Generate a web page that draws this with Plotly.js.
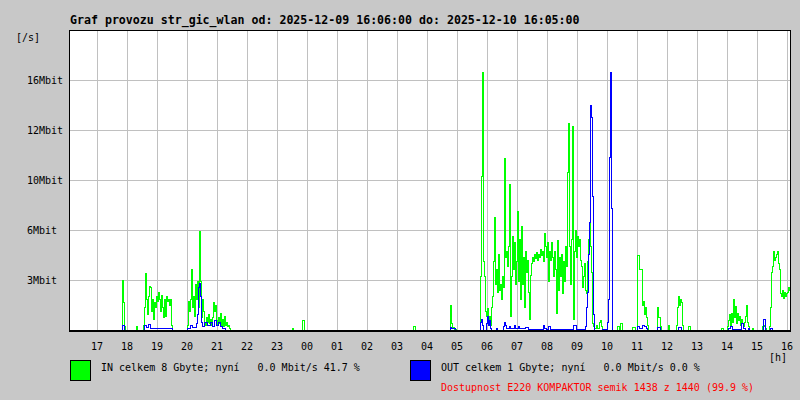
<!DOCTYPE html>
<html>
<head>
<meta charset="utf-8">
<script src="https://cdn.plot.ly/plotly-3.0.1.min.js"></script>
<style>
html,body{margin:0;padding:0;background:#c8c8c8;}
#chart{width:800px;height:400px;}
#chart .scatterlayer path, #chart .gridlayer path, #chart .shapelayer path, #chart path.xlines-above, #chart path.ylines-above{shape-rendering:crispEdges;}
</style>
</head>
<body>
<div id="chart"></div>
<script>
// time in minutes since 2025-12-09 00:00, values in Mbit/s
const inMinutes = [966,1070,1072,1074,1076,1098,1100,1112,1114,1116,1118,1120,1122,1124,1126,1128,1130,1132,1134,1136,1138,1140,1142,1144,1146,1148,1150,1152,1154,1156,1158,1160,1162,1164,1166,1168,1170,
1200,1202,1204,1206,1208,1210,1212,1214,1216,1218,1220,1222,1224,1226,1228,1230,1232,1234,1236,1238,1240,1242,1244,1246,1248,1250,1252,1254,1256,1258,1260,1262,1264,1266,1268,1270,1272,1274,1276,1278,1280,1282,1284,1286,
1410,1412,1430,1434,1652,1656,1726,1728,1730,1734,1738,
1786,1788,1790,1792,1794,1796,1798,1800,1802,1804,1806,1808,1810,1812,1814,1816,1818,1820,1822,1824,1826,1828,1830,1832,1834,1836,1838,1840,1842,1844,1846,1848,1850,1852,1854,1856,1858,1860,1862,1864,1866,1868,1870,1872,1874,1876,1878,1880,1882,1884,1886,1888,1890,1892,1894,1896,1898,1900,1902,1904,1906,1908,1910,1912,1914,1916,1918,1920,1922,1924,1926,1928,1930,1932,1934,1936,1938,1940,1942,1944,1946,1948,1950,1952,1954,1956,1958,1960,1962,1964,1966,1968,1970,1972,1974,1976,1978,1980,1982,1984,1986,1988,1990,1992,1994,1996,1998,2000,2002,2004,2006,2008,2010,2012,2014,2018,2020,2024,2026,2028,2030,
2060,2064,2066,2070,2090,2096,2100,2104,2110,2112,2114,2116,2118,2120,2122,2140,2142,2146,2148,2162,2164,2178,2180,2182,2184,2186,2188,2190,2192,2202,2206,
2268,2272,2280,2282,2284,2286,2288,2290,2292,2294,2296,2298,2300,2302,2304,2306,2308,2310,2312,2314,2316,2318,2320,2322,2324,2330,2332,2350,2354,2356,2358,2364,2366,2368,2370,2372,2374,2376,2378,2380,2382,2384,2386,2388,2390,2392,2394,2396,2398,2400,2402,2404,2406];
const inValues = [0,3.25,1.8,0.2,0,0.2,0,0.3,1.5,3.7,2.0,1.0,2.2,2.9,2.8,1.2,2.0,0.7,1.8,1.5,2.2,1.9,2.5,2.0,1.2,2.3,1.5,0.8,2.0,0.9,2.2,1.9,2.0,1.6,2.0,0.3,0,
0.3,1.9,1.2,2.0,4.0,1.5,2.2,0.9,3.0,2.0,3.2,1.5,6.5,3.2,0.8,2.0,1.2,0.5,0.3,0.8,0.5,1.0,0.4,0.7,0.3,0.8,1.8,1.2,1.6,0.6,0.3,0.8,0.4,1.1,0.3,0.7,0.2,0.9,0.3,0.5,0.2,0.3,0.1,0,
0.07,0,0.6,0,0.2,0,1.65,0.4,0.15,0.05,0,
3.5,10.1,17.0,4.5,3.5,1.2,0.9,1.4,0.6,0.9,0.3,1.5,2.2,4.5,7.4,3.0,4.0,2.5,5.0,2.6,3.0,2.0,3.5,2.8,11.3,4.8,5.2,4.2,5.5,9.6,0.9,3.5,6.2,4.0,5.8,3.0,4.5,7.8,3.2,6.0,2.0,6.8,3.0,4.8,1.5,5.2,3.8,4.6,2.5,0.7,3.6,4.4,4.8,4.5,5.0,4.7,5.1,4.6,5.0,4.8,5.3,4.9,5.2,4.5,6.4,5.5,4.8,5.8,3.2,5.2,4.6,5.8,4.8,3.5,5.2,4.0,1.1,5.9,2.6,4.8,3.5,5.0,2.4,4.5,3.2,5.5,4.2,10.4,13.6,5.5,3.0,6.0,13.4,0.7,5.2,6.6,4.8,6.2,5.5,6.0,4.6,4.2,2.8,3.5,4.4,2.6,2.4,4.5,6.0,7.1,5.5,3.8,0.4,0.2,0.1,0.3,0.1,0.5,0.66,0.2,0,
0.2,0,0.4,0,0.15,0,4.9,4.0,1.6,1.9,1.0,1.5,0.8,0.3,0,1.5,0.8,0.2,0,0.3,0,0.3,1.5,2.2,1.6,2.0,1.8,0.3,0,0.2,0,
0.1,0,0.2,0.6,1.0,0.3,1.1,0.5,2.0,0.8,1.55,0.4,1.1,0.6,0.9,0.3,0.7,0.4,0.2,0.5,0.9,1.65,0.5,0.2,0,0.1,0,0.2,0.3,0.1,0,0.2,1.5,3.8,4.2,5.2,4.6,4.8,5.0,5.2,4.4,4.0,2.4,2.2,2.6,2.1,2.5,2.2,2.4,2.5,2.8,2.6,2.6];

const outMinutes = [966,1070,1074,1114,1118,1122,1126,1170,1200,1206,1210,1218,1220,1222,1224,1226,1228,1230,1234,1240,1246,1250,1254,1258,1262,1266,1270,1276,
1726,1728,1736,1786,1788,1790,1792,1798,1800,1802,1804,1806,1808,1818,1820,1832,1834,1836,1838,1844,1846,1854,1856,1862,1864,1876,1882,1912,1914,1918,1922,1926,1972,1978,
1996,1998,2000,2002,2004,2006,2008,2010,2012,2014,2030,2040,2042,2044,2046,2048,2050,2060,
2100,2104,2110,2114,2118,2120,2140,2146,2182,2188,2282,2286,2290,2308,2312,2316,2322,2324,2352,2356,2366,2370,2406];
const outValues = [0,0.3,0,0.3,0.15,0.35,0.1,0,0.1,0.3,0.15,0.4,1.0,2.8,3.1,2.2,0.5,0.2,0.5,0.3,0.5,0.2,0.6,0.3,0.5,0.2,0.1,0,
0.15,0.1,0,0.5,0.7,0.3,0,0.4,0.9,0.3,0.6,0.1,0,0.1,0,0.2,0.5,0.3,0.1,0.2,0.1,0.3,0.1,0.2,0.1,0.15,0.05,0.3,0.1,0.05,0.2,0.05,0.3,0.05,
0.2,1.5,2.5,5.0,7.1,14.8,14.0,8.8,1.0,0,0.05,0.5,2.0,11.4,17.0,8.0,0,0,
0.25,0.1,0.3,0.2,0.1,0,0.15,0,0.15,0,0.1,0.2,0.05,0.45,0.1,0,0.1,0,0.7,0,0.1,0,0];

const yTickValues = [3.3, 6.6, 9.9, 13.2, 16.5];
const yTickLabels = ['3Mbit\u00a0', '6Mbit\u00a0', '10Mbit', '12Mbit', '16Mbit'];
const titleText = 'Graf provozu str_gic_wlan od: 2025-12-09 16:06:00 do: 2025-12-10 16:05:00';
const inLegend = 'IN celkem 8 Gbyte; nyní\u00a0\u00a0\u00a00.0 Mbit/s 41.7 %';
const outLegend = 'OUT celkem 1 Gbyte; nyní\u00a0\u00a0\u00a00.0 Mbit/s 0.0 %';
const availText = 'Dostupnost E220 KOMPAKTOR semik 1438 z 1440 (99.9 %)';

const base = Date.UTC(2025, 11, 9, 0, 0, 0);
const toDate = m => base + m * 60000;

const FONT = 'DejaVu Sans Mono, monospace';

const traces = [
  {x: inMinutes.map(toDate), y: inValues, type: 'scatter', mode: 'lines',
   line: {color: '#00ff00', width: 1, shape: 'hv'}, hoverinfo: 'skip', showlegend: false},
  {x: outMinutes.map(toDate), y: outValues, type: 'scatter', mode: 'lines',
   line: {color: '#0000ff', width: 1, shape: 'hv'}, hoverinfo: 'skip', showlegend: false}
];

const px = v => (v - 70) / 720;
const py = v => (330 - v) / 300;

const layout = {
  width: 800, height: 400,
  margin: {l: 70, r: 10, t: 30, b: 70, pad: 0},
  paper_bgcolor: '#c8c8c8', plot_bgcolor: '#ffffff',
  font: {family: FONT, size: 10, color: '#000000'},
  title: {text: titleText, x: 70/800, xref: 'container', xanchor: 'left',
          y: 1 - 19.5/400, yref: 'container', yanchor: 'middle',
          font: {family: FONT, size: 11.6, color: '#000000', weight: 'bold'}},
  xaxis: {type: 'date', range: [toDate(966), toDate(2406)], tickformat: '%H',
          dtick: 3600000, tick0: toDate(1020), showgrid: true, gridcolor: '#c0c0c0', gridwidth: 1,
          showline: true, linecolor: '#000000', linewidth: 2, ticks: '', zeroline: false,
          tickfont: {family: FONT, size: 10, color: '#000000'}, fixedrange: true, ticklabelstandoff: 6},
  yaxis: {range: [0, 19.8], tickmode: 'array', tickvals: yTickValues, ticktext: yTickLabels,
          showgrid: true, gridcolor: '#c0c0c0', gridwidth: 1, showline: true, linecolor: '#000000',
          linewidth: 1, mirror: true, ticks: '', zeroline: false,
          tickfont: {family: FONT, size: 10, color: '#000000'}, fixedrange: true, ticklabelstandoff: 4},
  shapes: [
    {type: 'line', xref: 'paper', yref: 'paper', x0: 0, x1: 1, y0: 1, y1: 1, line: {color: '#000', width: 1}},
    {type: 'rect', xref: 'paper', yref: 'paper', x0: px(70.5), x1: px(90.5), y0: py(380.5), y1: py(360), fillcolor: '#00ff00', line: {color: '#000', width: 1}},
    {type: 'rect', xref: 'paper', yref: 'paper', x0: px(410.5), x1: px(430), y0: py(380.5), y1: py(360), fillcolor: '#0000ff', line: {color: '#000', width: 1}}
  ],
  annotations: [
    {text: '[/s]', xref: 'paper', yref: 'paper', x: px(14), y: py(37.7), xanchor: 'left', yanchor: 'middle', showarrow: false, font: {family: FONT, size: 10, color: '#000'}},
    {text: '[h]', xref: 'paper', yref: 'paper', x: px(778), y: py(357), xanchor: 'center', yanchor: 'middle', showarrow: false, font: {family: FONT, size: 10, color: '#000'}},
    {text: inLegend, xref: 'paper', yref: 'paper', x: px(99), y: py(367), xanchor: 'left', yanchor: 'middle', showarrow: false, font: {family: FONT, size: 10, color: '#000'}},
    {text: outLegend, xref: 'paper', yref: 'paper', x: px(439), y: py(367), xanchor: 'left', yanchor: 'middle', showarrow: false, font: {family: FONT, size: 10, color: '#000'}},
    {text: availText, xref: 'paper', yref: 'paper', x: px(439), y: py(387), xanchor: 'left', yanchor: 'middle', showarrow: false, font: {family: FONT, size: 10, color: '#ff0000'}}
  ]
};

Plotly.newPlot('chart', traces, layout, {displayModeBar: false, staticPlot: true});
</script>
</body>
</html>
